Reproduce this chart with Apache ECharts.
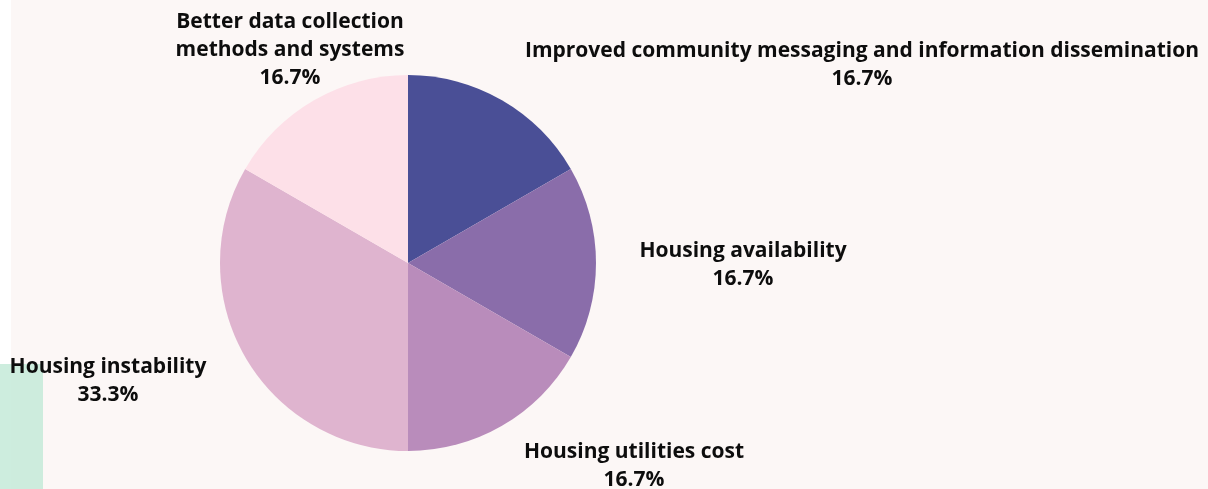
<!DOCTYPE html>
<html>
<head>
<meta charset="utf-8">
<script src="https://cdn.jsdelivr.net/npm/echarts@6/dist/echarts.min.js"></script>
<style>
  html, body { margin: 0; padding: 0; width: 1208px; height: 489px; background: #ffffff; overflow: hidden; }
  #panel { position: absolute; left: 11px; top: 0; width: 1197px; height: 489px; background: #fcf7f6; }
  #accent { position: absolute; left: 0; top: 364px; width: 43px; height: 125px; background: rgba(196, 234, 216, 0.85); }
  #chart { position: absolute; left: 0; top: 0; width: 1208px; height: 489px; }
</style>
</head>
<body>
<div id="panel"></div>
<div id="accent"></div>
<div id="chart"></div>
<script>
// Responses by theme (count of mentions)
const categories = [
  'Improved community messaging and information dissemination',
  'Housing availability',
  'Housing utilities cost',
  'Housing instability',
  'Better data collection\nmethods and systems'
];
const counts = [1, 1, 1, 2, 1];
const sliceColors = ['#4a4f96', '#8a6daa', '#b98cbb', '#dfb4cf', '#fde0e8'];

// Centre point of each label block, by slice
const labelSpots = [
  [862, 65],
  [743, 265],
  [634, 466],
  [108, 381],
  [290, 50]
];

const total = counts.reduce((a, b) => a + b, 0);

const chart = echarts.init(document.getElementById('chart'), null, { renderer: 'canvas' });

chart.setOption({
  backgroundColor: 'transparent',
  animation: false,
  series: [{
    type: 'pie',
    center: [408, 263],
    radius: 188,
    startAngle: 90,
    clockwise: true,
    avoidLabelOverlap: false,
    itemStyle: { borderWidth: 0 },
    label: {
      show: true,
      position: 'outside',
      formatter: p => p.name + '\n' + (p.value / total * 100).toFixed(1) + '%',
      fontFamily: '"Open Sans", "Noto Sans", sans-serif',
      fontWeight: 'bold',
      fontSize: 21,
      lineHeight: 28,
      color: '#0d0d0d',
      align: 'center'
    },
    labelLine: { show: false },
    labelLayout: function (p) {
      const s = labelSpots[p.dataIndex];
      return { x: s[0], y: s[1], align: 'center', verticalAlign: 'middle', hideOverlap: false };
    },
    emphasis: { disabled: true },
    data: categories.map((name, i) => ({
      name: name,
      value: counts[i],
      itemStyle: { color: sliceColors[i] }
    }))
  }]
});
</script>
</body>
</html>
